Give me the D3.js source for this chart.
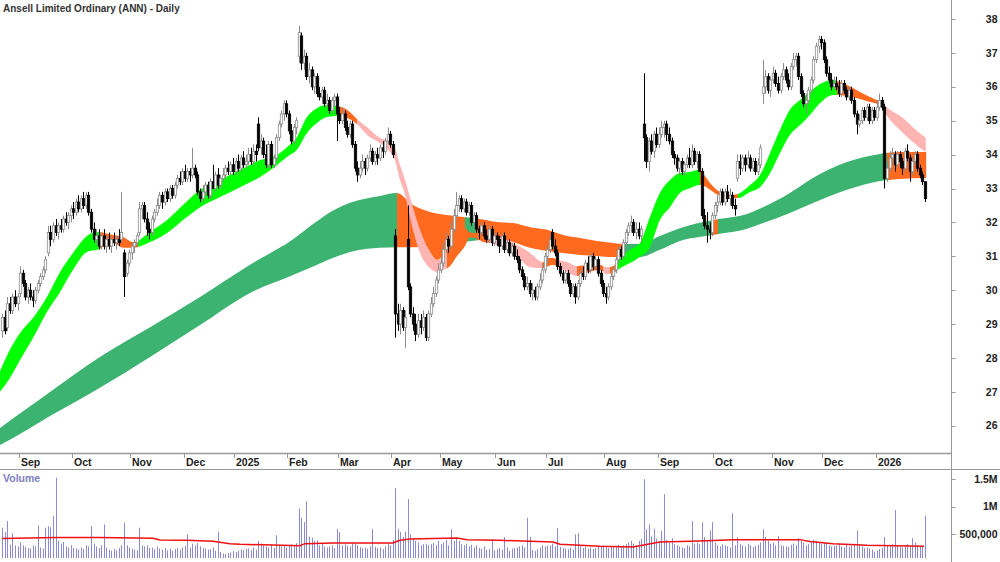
<!DOCTYPE html>
<html>
<head>
<meta charset="utf-8">
<script src="https://cdn.jsdelivr.net/npm/d3@7"></script>
<style>
  body { margin: 0; background: #fff; }
  svg { display: block; font-family: "Liberation Sans", Arial, sans-serif; }
</style>
</head>
<body>
<div id="chart"></div>
<script>
// daily candles per month: [open, high, low, close, volume (thousands)]
const aug24 = [[28.8,29.3,28.6,29.2,620],[29.2,29.4,28.7,28.8,540],[28.9,29.8,28.8,29.6,740],[29.6,29.8,29.3,29.4,310],[29.4,29.9,29.3,29.8,520],[29.8,30.0,29.5,29.6,300],[29.6,29.9,29.4,29.8,280]];
const sep24 = [[29.9,30.7,29.8,30.5,350],[30.5,30.6,30.1,30.2,300],[30.2,30.3,29.7,29.8,270],[29.8,30.1,29.6,30.0,250],[30.0,30.2,29.7,29.8,240],[29.8,30.0,29.5,29.7,300],[29.7,30.1,29.6,30.0,280],[30.0,30.3,29.9,30.2,660],[30.2,30.5,30.1,30.4,260],[30.4,30.7,30.3,30.6,240],[30.6,31.0,30.5,30.9,620],[31.1,31.9,31.0,31.7,645],[31.7,31.9,31.3,31.5,630],[31.5,32.0,31.4,31.9,830],[31.9,32.1,31.6,31.7,1530],[31.7,32.0,31.5,31.9,380],[31.9,32.1,31.7,31.8,330],[31.8,32.2,31.7,32.1,360],[32.1,32.3,31.9,32.0,280],[32.0,32.3,31.8,32.2,260],[32.2,32.5,32.0,32.4,300]];
const oct24 = [[32.4,32.6,32.1,32.3,250],[32.3,32.7,32.2,32.6,240],[32.6,32.8,32.3,32.4,220],[32.4,32.8,32.3,32.7,260],[32.7,32.9,32.4,32.5,230],[32.5,32.9,32.4,32.8,300],[32.8,32.9,32.2,32.3,280],[32.3,32.4,31.7,31.8,650],[31.8,32.0,31.4,31.5,330],[31.5,31.8,31.3,31.6,280],[31.6,31.8,31.2,31.3,250],[31.3,31.7,31.2,31.6,300],[31.6,31.8,31.2,31.3,680],[31.3,31.6,31.1,31.5,260],[31.5,31.7,31.2,31.3,220],[31.3,31.6,31.1,31.5,200],[31.5,31.7,31.3,31.4,230],[31.4,31.6,31.2,31.5,210],[31.5,31.8,31.3,31.4,250],[31.5,32.9,31.4,31.7,300],[31.1,31.2,29.8,30.4,710],[30.5,30.9,30.4,30.8,300],[30.8,31.2,30.7,31.1,260]];
const nov24 = [[31.1,31.4,30.9,31.3,240],[31.3,31.5,31.1,31.4,220],[31.4,31.7,31.3,31.6,210],[31.7,32.6,31.6,32.4,620],[32.4,32.6,32.1,32.5,300],[32.5,32.6,32.0,32.1,280],[32.1,32.3,31.6,31.8,300],[31.8,32.0,31.5,31.7,250],[31.7,32.2,31.6,32.1,260],[32.1,32.4,32.0,32.3,230],[32.3,32.7,32.2,32.5,280],[32.5,32.9,32.4,32.8,240],[32.8,32.9,32.4,32.6,220],[32.6,33.0,32.5,32.9,250],[32.9,33.0,32.6,32.7,210],[32.7,33.1,32.6,33.0,240],[33.0,33.1,32.7,32.8,200],[32.8,33.2,32.7,33.1,230],[33.1,33.4,33.0,33.3,250],[33.3,33.5,33.1,33.2,220],[33.2,33.6,33.1,33.5,260]];
const dec24 = [[33.5,33.7,33.2,33.3,290],[33.3,33.6,33.2,33.5,500],[33.5,33.6,33.2,33.4,260],[33.4,34.2,33.3,33.6,330],[33.6,33.7,33.3,33.4,300],[33.4,33.5,32.8,32.9,340],[32.9,33.0,32.6,32.7,280],[32.7,33.1,32.6,32.9,250],[32.9,33.2,32.8,33.1,240],[33.1,33.2,32.7,32.8,220],[32.8,33.3,32.7,33.2,230],[33.2,33.7,33.0,33.0,260],[33.0,33.5,32.9,33.4,200],[33.4,33.6,33.0,33.1,550],[33.1,33.4,33.0,33.3,180],[33.3,33.6,33.2,33.4,150],[33.4,33.7,33.3,33.6,140],[33.6,33.8,33.4,33.5,160],[33.5,33.8,33.4,33.7,170],[33.7,33.9,33.4,33.5,190]];
const jan25 = [[33.5,33.9,33.4,33.8,180],[33.8,34.0,33.5,33.6,200],[33.6,34.0,33.5,33.9,220],[33.9,34.1,33.6,33.7,210],[33.7,34.0,33.6,33.8,230],[33.8,34.2,33.7,34.0,240],[34.0,34.2,33.7,33.8,210],[33.8,34.3,33.7,34.1,260],[34.1,34.3,33.8,34.0,220],[34.9,35.1,34.1,34.2,380],[34.2,34.6,34.0,34.4,330],[34.4,34.5,33.9,34.0,300],[34.0,34.3,33.6,33.7,280],[33.7,34.4,33.6,34.3,260],[34.3,34.4,33.6,33.7,310],[33.7,34.0,33.6,33.9,250],[33.9,34.6,33.8,34.5,480],[34.5,35.0,34.4,34.9,300],[34.9,35.3,34.8,35.2,280],[35.2,35.6,35.0,35.5,300],[35.5,35.6,35.1,35.2,260]];
const feb25 = [[35.2,35.3,34.6,34.7,290],[34.7,34.9,34.3,34.4,320],[34.4,34.9,34.3,34.8,300],[34.8,35.1,34.6,35.0,340],[36.9,37.8,36.7,37.6,970],[37.5,37.6,36.5,36.7,800],[36.7,37.1,36.5,36.9,720],[36.9,37.0,36.2,36.3,1100],[36.3,36.7,36.1,36.5,460],[36.5,36.6,35.9,36.0,440],[36.0,36.4,35.8,36.3,380],[36.3,36.4,35.7,35.8,390],[35.8,36.0,35.6,35.7,300],[35.7,36.0,35.5,35.9,330],[35.9,36.0,35.4,35.5,280],[35.5,35.8,35.4,35.6,260],[35.6,35.7,35.2,35.3,280],[35.3,35.7,35.2,35.6,300],[35.6,35.8,35.4,35.7,250],[35.7,35.8,34.4,35.2,600]];
const mar25 = [[35.2,35.4,34.9,35.0,540],[35.0,35.4,34.9,35.2,300],[35.2,35.3,34.7,34.8,320],[34.8,35.0,34.5,34.6,290],[34.6,35.0,34.5,34.9,280],[34.9,35.0,34.2,34.3,340],[34.3,34.4,33.5,33.6,330],[33.6,33.8,33.2,33.4,300],[33.4,33.8,33.3,33.6,270],[33.6,34.0,33.5,33.8,250],[33.8,33.9,33.4,33.6,260],[33.6,34.0,33.5,33.9,240],[33.9,34.3,33.8,34.1,280],[34.1,34.2,33.7,33.8,600],[33.8,34.1,33.7,34.0,270],[34.0,34.2,33.7,33.9,250],[33.9,34.3,33.8,34.2,260],[34.2,34.4,33.9,34.1,230],[34.1,34.5,34.0,34.4,280],[34.4,34.8,34.3,34.6,330],[34.6,34.7,34.2,34.3,300]];
const apr25 = [[34.3,34.4,33.9,34.0,400],[31.6,31.8,28.6,29.3,1340],[29.3,29.6,28.8,29.0,600],[29.0,29.6,28.7,29.4,540],[29.4,29.5,28.8,28.9,450],[28.9,29.4,28.3,29.2,550],[31.5,32.5,30.0,30.1,1140],[30.1,30.2,29.2,29.3,500],[29.3,29.5,28.8,29.0,420],[29.0,29.3,28.5,28.7,380],[28.7,29.3,28.6,29.1,350],[29.1,29.3,28.7,28.9,300],[28.9,29.4,28.8,29.2,320],[29.2,29.3,28.5,28.6,330],[28.6,29.4,28.5,29.3,300],[29.3,29.8,29.2,29.6,320],[29.6,30.1,29.5,29.9,340],[29.9,30.4,29.8,30.3,300],[30.3,30.8,30.2,30.6,380]];
const may25 = [[30.6,31.0,30.5,30.8,320],[30.8,31.4,30.7,31.2,350],[31.2,31.7,31.1,31.5,400],[31.5,31.6,31.1,31.3,300],[31.3,32.0,31.2,31.8,590],[31.8,32.4,31.7,32.2,380],[32.2,32.9,32.1,32.5,420],[32.5,32.8,32.3,32.7,380],[32.7,32.8,32.3,32.4,320],[32.4,32.7,32.3,32.6,300],[32.6,32.7,32.2,32.3,330],[32.3,32.6,32.2,32.5,280],[32.5,32.6,31.9,32.0,310],[32.0,32.3,31.9,32.2,260],[32.2,32.3,31.7,31.8,300],[31.8,31.9,31.5,31.7,250],[31.7,32.0,31.6,31.9,240],[31.9,32.0,31.5,31.6,280],[31.6,31.8,31.4,31.5,220],[31.5,31.9,31.4,31.8,230],[31.8,31.9,31.3,31.4,410],[31.4,31.7,31.3,31.6,210]];
const jun25 = [[31.6,31.7,31.3,31.5,230],[31.5,31.6,31.1,31.3,250],[31.3,31.7,31.2,31.6,220],[31.6,31.7,31.1,31.2,450],[31.2,31.5,31.1,31.4,260],[31.4,31.5,31.0,31.1,200],[31.1,31.4,31.0,31.3,240],[31.3,31.4,30.9,31.0,250],[31.0,31.2,30.8,30.9,260],[30.9,31.0,30.5,30.6,280],[30.6,30.7,30.3,30.4,300],[30.4,30.5,30.0,30.1,260],[30.1,30.4,30.0,30.2,800],[30.2,30.3,29.8,29.9,450],[29.9,30.2,29.7,30.0,220],[30.0,30.1,29.7,29.8,200],[29.8,30.2,29.7,30.1,230],[30.1,30.5,30.0,30.3,260],[30.3,30.8,30.2,30.6,300],[30.6,31.1,30.5,31.0,280]];
const jul25 = [[31.0,31.3,30.8,31.2,290],[31.2,31.6,31.1,31.5,300],[31.7,31.8,31.2,31.3,330],[31.3,31.5,31.0,31.1,280],[31.1,31.2,30.6,30.7,610],[30.7,30.8,30.4,30.5,270],[30.5,30.6,30.2,30.3,250],[30.3,30.6,30.2,30.5,240],[30.5,30.6,30.1,30.2,230],[30.2,30.3,29.8,29.9,260],[29.9,30.2,29.8,30.1,220],[30.1,30.2,29.6,29.8,500],[29.8,30.3,29.7,30.2,520],[30.2,30.6,30.1,30.5,280],[30.5,30.7,30.3,30.4,250],[30.4,30.9,30.3,30.8,270],[30.8,31.0,30.5,30.6,240],[30.6,31.1,30.5,31.0,260],[31.0,31.1,30.6,30.7,230],[30.7,31.0,30.6,30.9,250],[30.9,31.0,30.4,30.5,280],[30.5,30.6,30.1,30.2,270],[30.2,30.3,29.8,29.9,300]];
const aug25 = [[29.9,30.1,29.6,29.8,280],[29.8,30.2,29.7,30.1,250],[30.1,30.5,30.0,30.4,270],[30.4,30.7,30.3,30.6,260],[30.6,31.0,30.5,30.9,290],[30.9,31.3,30.8,31.2,310],[31.2,31.3,30.9,31.0,280],[31.0,31.5,30.9,31.4,300],[31.4,31.8,31.3,31.7,320],[31.7,32.0,31.6,31.9,350],[31.9,32.2,31.7,32.0,380],[32.0,32.1,31.6,31.7,330],[31.7,32.0,31.5,31.8,300],[31.8,32.0,31.5,31.6,380],[31.6,31.9,31.4,31.8,420],[34.9,36.4,33.8,34.5,1500],[34.5,34.6,33.6,33.8,590],[33.8,34.5,33.5,34.4,680],[34.4,34.6,34.0,34.1,460],[34.1,34.7,33.9,34.6,600],[34.6,34.8,34.2,34.3,420]];
const sep25 = [[34.3,34.8,34.2,34.6,380],[34.6,35.0,34.5,34.8,560],[34.8,35.0,34.5,34.9,1230],[34.9,35.0,34.4,34.6,400],[34.6,34.8,34.3,34.4,350],[34.4,34.5,33.9,34.0,430],[34.0,34.1,33.7,33.9,320],[33.9,34.0,33.5,33.6,300],[33.6,33.9,33.4,33.8,280],[33.8,33.9,33.4,33.5,260],[33.5,33.8,33.4,33.7,250],[33.7,34.0,33.6,33.9,300],[33.9,34.2,33.6,33.7,280],[33.7,34.3,33.6,34.1,740],[34.1,34.2,33.7,33.8,330],[33.8,34.1,33.6,34.0,350],[34.0,34.1,33.5,33.5,320],[33.5,33.6,32.1,32.2,720],[32.2,32.4,31.8,31.9,450],[31.9,32.3,31.4,31.8,380],[31.8,32.0,31.5,31.7,570],[31.7,32.3,31.6,32.2,720]];
const oct25 = [[32.2,32.6,32.1,32.5,350],[32.5,32.8,32.3,32.6,300],[32.6,33.0,32.5,32.9,280],[32.9,33.0,32.5,32.6,320],[32.6,33.0,32.5,32.9,300],[32.9,33.1,32.6,32.7,280],[32.7,33.0,32.5,32.8,260],[32.8,32.9,32.4,32.5,880],[32.5,32.7,32.2,32.4,300],[33.3,34.0,33.2,33.8,450],[33.8,34.0,33.4,33.6,320],[33.6,34.0,33.5,33.9,300],[33.9,34.0,33.5,33.7,280],[33.7,34.1,33.6,33.9,330],[33.9,34.0,33.5,33.6,300],[33.6,33.9,33.5,33.8,270],[33.8,33.9,33.4,33.5,290],[33.5,33.9,33.4,33.7,310],[33.7,34.3,33.6,34.2,350],[35.8,36.8,35.5,36.0,590],[36.0,36.5,35.8,36.3,450],[36.3,36.4,35.8,35.9,380],[35.9,36.3,35.7,36.2,330]];
const nov25 = [[36.2,36.6,36.1,36.4,350],[36.4,36.5,36.0,36.1,300],[36.1,36.3,35.8,35.9,470],[35.9,36.4,35.8,36.3,300],[36.3,36.7,36.2,36.5,290],[36.5,36.6,36.1,36.2,280],[36.2,36.4,35.9,36.0,270],[36.0,36.7,35.9,36.6,310],[36.6,37.0,36.5,36.8,330],[36.8,37.0,36.6,36.9,300],[36.9,37.0,36.2,36.3,430],[36.3,36.4,35.7,35.8,380],[35.8,35.9,35.4,35.5,350],[35.5,35.8,35.2,35.6,300],[35.6,36.0,35.5,35.9,320],[35.9,36.3,35.8,36.2,350],[36.2,36.9,36.1,36.8,400],[36.8,37.3,36.7,37.2,380],[37.2,37.5,37.0,37.4,350],[37.4,37.5,37.1,37.3,330]];
const dec25 = [[37.3,37.4,36.7,36.8,360],[36.8,36.9,36.3,36.4,340],[36.4,36.6,36.1,36.2,300],[36.2,36.4,35.9,36.0,280],[36.0,36.3,35.9,36.1,290],[36.1,36.3,35.9,36.0,300],[36.0,36.2,35.7,35.8,320],[35.8,36.2,35.7,36.1,280],[36.1,36.2,35.8,35.9,260],[35.9,36.0,35.6,35.7,310],[35.7,36.0,35.6,35.9,280],[35.9,36.0,35.5,35.6,300],[35.6,35.7,35.1,35.2,330],[35.2,35.3,34.6,34.9,570],[34.9,35.2,34.8,35.0,300],[35.0,35.4,34.9,35.3,280],[35.3,35.4,35.0,35.1,250],[35.1,35.5,35.0,35.4,260],[35.4,35.5,34.9,35.0,240],[35.0,35.4,34.9,35.3,220],[35.3,35.4,35.0,35.1,180]];
const jan26 = [[35.1,35.6,35.0,35.4,200],[35.4,35.8,35.3,35.6,230],[35.6,35.7,35.3,35.4,250],[35.4,35.5,33.0,33.3,450],[33.3,33.8,33.2,33.6,300],[33.6,34.1,33.5,33.9,280],[33.9,34.2,33.7,34.0,320],[34.0,34.1,33.5,33.7,940],[33.7,34.1,33.6,34.0,300],[34.0,34.1,33.6,33.8,280],[33.8,33.9,33.4,33.6,260],[33.6,34.2,33.5,34.1,300],[34.1,34.3,33.8,33.9,320],[33.9,34.0,33.2,33.5,280],[33.5,33.9,33.4,33.8,430],[33.8,34.1,33.7,34.0,350],[34.0,34.1,33.5,33.6,300],[33.6,33.7,33.3,33.4,270],[33.4,33.5,33.1,33.2,280],[33.2,33.2,32.6,32.7,840]];

const months = [aug24, sep24, oct24, nov24, dec24, jan25, feb25, mar25, apr25, may25, jun25, jul25, aug25, sep25, oct25, nov25, dec25, jan26];
const monthLabels = ["", "Sep", "Oct", "Nov", "Dec", "2025", "Feb", "Mar", "Apr", "May", "Jun", "Jul", "Aug", "Sep", "Oct", "Nov", "Dec", "2026"];

// long-term ribbon: [day index, upper, lower]
const longBand = [[-1,25.93,25.43],[9,26.47,25.85],[18.8,27.00,26.29],[28.7,27.53,26.70],[38.5,28.03,27.12],[58.3,28.91,28.03],[78,29.80,28.97],[97.7,30.75,29.92],[114.7,31.50,30.45],[122.6,31.95,30.70],[129.3,32.30,30.92],[137.2,32.58,31.13],[149,32.78,31.25],[155.7,32.87,31.27],[162,32.51,31.27],[168.7,32.31,31.30],[175.4,32.22,31.36],[181.7,32.16,31.42],[188.4,32.10,31.48],[195.1,32.01,31.54],[201.5,31.98,31.42],[208.2,31.86,31.25],[214.9,31.78,31.16],[221.2,31.63,31.10],[227.9,31.54,31.04],[234.6,31.45,31.01],[240.9,31.39,30.98],[245.6,31.36,30.98],[251.5,31.36,30.98],[259.4,31.60,31.19],[267.3,31.83,31.45],[280.3,32.07,31.63],[293.8,32.25,31.81],[300.1,32.45,31.98],[310.7,32.87,32.28],[319.8,33.31,32.57],[333.2,33.78,32.96],[346.2,34.02,33.22],[354.1,34.08,33.28],[364.5,34.08,33.31]];
const longColors = [[-1,155.7,"dg"],[155.7,182.5,"or"],[182.5,187.3,"dg"],[187.3,245.6,"or"],[245.6,280,"dg"],[280,282.3,"or"],[282.3,349,"dg"],[349,364.5,"or"]];

// short-term ribbon: [day index, upper, lower]
const shortBand = [[-1,27.59,27.00],[3,28.24,27.41],[7,28.74,27.94],[12.1,29.18,28.59],[17.6,29.80,29.36],[22.8,30.54,29.95],[27.9,31.10,30.60],[33.4,31.60,31.13],[37.4,31.72,31.19],[43.7,31.63,31.39],[47.6,31.57,31.25],[51.6,31.42,31.25],[58.3,31.72,31.42],[65,32.07,31.69],[71.3,32.51,32.07],[78,32.96,32.45],[85.9,33.25,32.75],[93.8,33.55,33.04],[101.7,33.84,33.34],[106.8,33.93,33.60],[112.3,34.22,33.93],[116.2,34.52,34.14],[120.2,35.11,34.64],[124.1,35.37,34.93],[128.1,35.46,35.11],[132,35.43,35.14],[136,35.32,35.08],[139.9,35.05,34.90],[143.9,34.81,34.58],[149,34.49,34.34],[152.9,34.37,34.08],[154.9,34.19,33.84],[156.9,33.69,33.25],[158.9,33.25,32.81],[160.8,32.75,32.16],[164.8,31.78,31.10],[168.7,31.13,30.65],[171.5,30.89,30.54],[173.8,30.98,30.60],[176.6,31.72,30.71],[179.4,31.80,31.01],[182.5,31.83,31.30],[184.5,31.70,31.56],[187.3,31.68,31.53],[189.6,31.75,31.42],[192.4,31.66,31.39],[196.3,31.54,31.30],[201.5,31.39,31.13],[208.2,31.10,30.68],[213.3,30.83,30.65],[215.3,30.95,30.71],[217.2,30.95,30.74],[219.2,30.89,30.71],[222.8,30.83,30.54],[226.7,30.71,30.42],[231.8,30.74,30.54],[235.8,30.74,30.60],[238.2,30.68,30.48],[240.9,30.71,30.51],[243.7,30.95,30.65],[247.6,31.19,30.80],[251.5,31.39,30.98],[255.5,32.16,31.27],[259.4,32.87,32.07],[263.4,33.25,32.45],[267.3,33.46,32.87],[271.3,33.49,33.01],[275.2,33.55,33.10],[277.2,33.37,33.07],[279.2,33.16,32.96],[283.1,32.90,32.78],[287.1,32.81,32.72],[290.2,32.84,32.72],[295,33.10,32.90],[298.9,33.40,33.04],[302.9,34.05,33.46],[306.8,34.73,34.05],[310.7,35.32,34.58],[314.7,35.61,34.87],[318.6,35.85,35.17],[322.6,36.08,35.52],[327.7,36.20,35.76],[333.2,36.05,35.73],[338.3,35.85,35.64],[342.3,35.70,35.55],[345.8,35.58,35.46],[350.2,35.32,35.02],[355.3,35.08,34.64],[359.2,34.81,34.37],[364.3,34.49,34.08]];
const shortColors = [[-1,38.5,"lg"],[38.5,53.5,"or"],[53.5,132,"lg"],[132,139.9,"or"],[139.9,175.4,"pk"],[175.4,192.4,"or"],[192.4,213.3,"pk"],[213.3,219.2,"or"],[219.2,226.7,"pk"],[226.7,237,"or"],[237,239.7,"pk"],[239.7,242.5,"or"],[242.5,275.2,"lg"],[275.2,290.2,"or"],[290.2,329.3,"lg"],[329.3,345.8,"or"],[345.8,364.3,"pk"]];
// slower short averages still above the falling fast ones after the April drop
const shortUnder = [[165.4,31.62,31.62],[168.7,31.62,31.13],[171.5,31.62,30.89],[173.8,31.62,30.98],[176.6,31.62,31.0]];

// volume moving average: [day index, thousands]
const volAvg = [[0,422],[21.6,440],[38.5,440],[59.4,428],[62.2,395],[72.9,390],[83.1,372],[89.8,330],[93.8,318],[117.4,294],[119.4,330],[130.4,342],[154.1,342],[156.9,390],[160.8,415],[179.4,433],[183.3,400],[196.3,390],[217.2,360],[220,318],[235.8,282],[248.8,270],[251.5,290],[259.4,360],[275.2,378],[288.2,403],[314.7,403],[318.6,370],[327.7,330],[341.1,300],[363.6,282]];

const priceTicks = d3.range(26, 39);
const volTicks = [500, 1000, 1500];
const volTickLabels = ["500,000", "1M", "1.5M"];

const colors = { dg: "#3cb371", lg: "#00ff00", or: "#ff6a1f", pk: "#ffb4b4" };

const width = 1000, height = 562;
const plotRight = 951, priceBottom = 453;

const days = months.flat();
const monthStart = [];
let n = 0;
months.forEach(m => { monthStart.push(n); n += m.length; });

const svg = d3.select("#chart").append("svg")
    .attr("width", width).attr("height", height)
    .attr("viewBox", [0, 0, width, height]);
const defs = svg.append("defs");

const x = d3.scaleLinear().domain([0, days.length - 1]).range([2.3, 925]);
const y = d3.scaleLinear().domain([26, 38]).range([425.8, 19]);
const yv = d3.scaleLinear().domain([0, 1500]).range([561.8, 479.3]);

defs.append("clipPath").attr("id", "pricePanel").append("rect")
    .attr("x", 0).attr("y", 0).attr("width", plotRight).attr("height", priceBottom);
defs.append("clipPath").attr("id", "volPanel").append("rect")
    .attr("x", 0).attr("y", 471).attr("width", plotRight).attr("height", 87);

const area = d3.area()
    .x(d => x(d[0])).y0(d => y(d[2])).y1(d => y(d[1]))
    .curve(d3.curveMonotoneX);

const price = svg.append("g").attr("clip-path", "url(#pricePanel)");

function drawBand(pts, segs, id) {
    segs.forEach((s, k) => {
        defs.append("clipPath").attr("id", id + k).append("rect")
            .attr("x", x(s[0])).attr("y", 0)
            .attr("width", x(s[1]) - x(s[0]) + 0.4).attr("height", priceBottom);
        price.append("path")
            .attr("clip-path", `url(#${id + k})`)
            .attr("fill", colors[s[2]])
            .attr("d", area(pts));
    });
}

drawBand(longBand, longColors, "lb");
price.append("path").attr("fill", colors.or).attr("d", area(shortUnder));
drawBand(shortBand, shortColors, "sb");

// candles
const candles = price.append("g");
days.forEach((d, i) => {
    const [o, h, l, c] = d;
    const up = c >= o;
    const cx = Math.round(x(i)) + 0.5;
    candles.append("line")
        .attr("x1", cx).attr("x2", cx)
        .attr("y1", y(h)).attr("y2", y(l))
        .attr("stroke", up ? "#8c8c8c" : "#000").attr("stroke-width", 1);
    const top = y(Math.max(o, c)), bot = y(Math.min(o, c));
    candles.append("rect")
        .attr("x", cx - 1.2).attr("width", 2.4)
        .attr("y", top).attr("height", Math.max(bot - top, 0.8))
        .attr("fill", up ? "#fff" : "#000")
        .attr("stroke", up ? "#8c8c8c" : "#000").attr("stroke-width", 0.8);
});

// frame lines
svg.append("line").attr("x1", plotRight + 0.5).attr("x2", plotRight + 0.5)
    .attr("y1", 0).attr("y2", height).attr("stroke", "#999");
svg.append("line").attr("x1", 0).attr("x2", plotRight).attr("y1", 453.5).attr("y2", 453.5)
    .attr("stroke", "#999").attr("stroke-width", 1.5);
svg.append("line").attr("x1", 0).attr("x2", width).attr("y1", 469.5).attr("y2", 469.5)
    .attr("stroke", "#999");

// price axis
const pAxis = svg.append("g").attr("transform", `translate(${plotRight + 0.5},0)`);
priceTicks.forEach(t => {
    pAxis.append("line").attr("x1", 0).attr("x2", 4).attr("y1", Math.round(y(t)) + 0.5)
        .attr("y2", Math.round(y(t)) + 0.5).attr("stroke", "#999");
    pAxis.append("text").attr("x", 46).attr("y", y(t)).attr("dy", "0.35em")
        .attr("text-anchor", "end").attr("font-size", "10.5px").attr("font-weight", "bold")
        .attr("fill", "#222").text(t);
});

// month axis
monthStart.forEach((s, k) => {
    if (!monthLabels[k]) return;
    const tx = Math.round(x(s) - 1.3) + 0.5;
    svg.append("line").attr("x1", tx).attr("x2", tx).attr("y1", 454).attr("y2", 458)
        .attr("stroke", "#999");
    svg.append("text").attr("x", tx + 1.5).attr("y", 466)
        .attr("font-size", "10.5px").attr("font-weight", "bold").attr("fill", "#222")
        .text(monthLabels[k]);
});

// volume
const vol = svg.append("g").attr("clip-path", "url(#volPanel)");
vol.selectAll("line.v").data(days).join("line")
    .attr("x1", (d, i) => Math.round(x(i)) + 0.5).attr("x2", (d, i) => Math.round(x(i)) + 0.5)
    .attr("y1", yv(0)).attr("y2", d => yv(d[4]))
    .attr("stroke", "#8a8ad8").attr("stroke-width", 1);
vol.append("path").datum(volAvg)
    .attr("fill", "none").attr("stroke", "#ee1111").attr("stroke-width", 1.5)
    .attr("d", d3.line().x(d => x(d[0])).y(d => yv(d[1])));

const vAxis = svg.append("g").attr("transform", `translate(${plotRight + 0.5},0)`);
volTicks.forEach((t, k) => {
    vAxis.append("line").attr("x1", 0).attr("x2", 4).attr("y1", Math.round(yv(t)) + 0.5)
        .attr("y2", Math.round(yv(t)) + 0.5).attr("stroke", "#999");
    vAxis.append("text").attr("x", 46).attr("y", yv(t)).attr("dy", "0.35em")
        .attr("text-anchor", "end").attr("font-size", "10.5px").attr("font-weight", "bold")
        .attr("fill", "#222").text(volTickLabels[k]);
});

svg.append("text").attr("x", 3).attr("y", 482)
    .attr("font-size", "10.5px").attr("font-weight", "bold").attr("fill", "#8080c4")
    .text("Volume");

svg.append("text").attr("x", 3).attr("y", 12)
    .attr("font-size", "10px").attr("font-weight", "bold").attr("fill", "#333")
    .text("Ansell Limited Ordinary (ANN) - Daily");
</script>
</body>
</html>
